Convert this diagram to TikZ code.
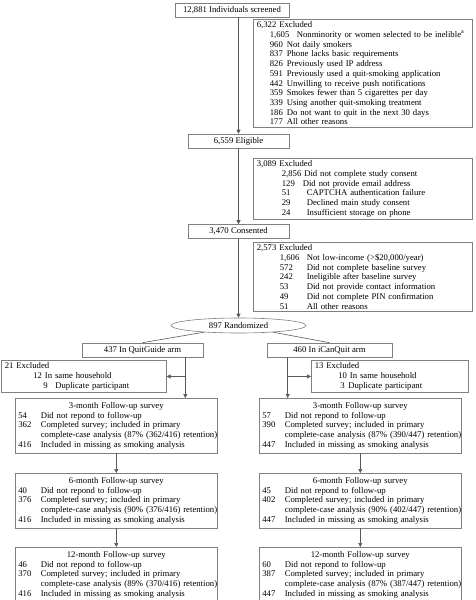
\documentclass[tikz,border=0pt]{standalone}
\usepackage{fontspec}
\setmainfont{Liberation Serif}
\usetikzlibrary{arrows.meta, positioning, shapes.geometric}
\newcommand{\flowfont}{\fontsize{8.7}{9.7}\selectfont}
\tikzset{
  box/.style = {
    draw=black!50!white, line width=0.6pt, inner xsep=3.5pt, inner ysep=2.5pt,
    font=\flowfont,
  },
  stage/.style = {box, align=center, minimum height=14pt},
  excluded/.style = {box, anchor=north west, align=left, text width=#1},
  followup/.style = {box, anchor=north west, align=left, text width=196pt,
                     inner xsep=3pt, inner ysep=4pt},
  randomized/.style = {ellipse, draw=black!50!white, line width=0.6pt,
                       minimum width=135pt, minimum height=15pt, inner sep=0,
                       font=\flowfont},
  split/.style = {line width=0.6pt, black!65!white},
  link/.style = {split, arrows={-Triangle[length=4pt, width=4pt]}},
}
\newcommand{\exrow}[3][17pt]{\makebox[#1][l]{#2}\mbox{#3}}
\newcommand{\followup}[5]{%
  %% Text of a follow-up box:
  %%    1. Month  2. No response  3. Completed
  %%    4. Retention (%)  5. Analysed in missing as smoking
  {\centering #1-month Follow-up survey\par}
  \exrow[22.5pt]{#2}{Did not repond to follow-up}\\
  \exrow[22.5pt]{#3}{Completed survey; included in primary}\\
  \exrow[22.5pt]{}{complete-case analysis (#4\% (#3/#5) retention)}\\
  \exrow[22.5pt]{#5}{Included in missing as smoking analysis}}

\begin{document}
\begin{tikzpicture}[x=1pt, y=-1pt]
    \useasboundingbox (0,0) rectangle (475,600);

    %% Screening, eligibility and consent with their exclusions
    \node [stage, minimum width=114pt] (screened) at (232,10) {12,881 Individuals screened};
    \node [excluded=212pt] (excl1) at (253,19) {%
      6,322 Excluded\\
      \hspace*{13pt}\exrow[27pt]{1,605}{Nonminority or women selected to be inelible\textsuperscript{a}}\\
      \hspace*{13pt}\exrow{960}{Not daily smokers}\\
      \hspace*{13pt}\exrow{837}{Phone lacks basic requirements}\\
      \hspace*{13pt}\exrow{826}{Previously used IP address}\\
      \hspace*{13pt}\exrow{591}{Previously used a quit-smoking application}\\
      \hspace*{13pt}\exrow{442}{Unwilling to receive push notifications}\\
      \hspace*{13pt}\exrow{359}{Smokes fewer than 5 cigarettes per day}\\
      \hspace*{13pt}\exrow{339}{Using another quit-smoking treatment}\\
      \hspace*{13pt}\exrow{186}{Do not want to quit in the next 30 days}\\
      \hspace*{13pt}\exrow{177}{All other reasons}};
    \node [stage, minimum width=101pt] (eligible) at (238.5,141) {6,559 Eligible};
    \node [excluded=212pt] (excl2) at (253,158) {%
      3,089 Excluded\\
      \hspace*{25pt}\mbox{2,856 Did not complete study consent}\\
      \hspace*{25pt}\exrow[21pt]{129}{Did not provide email address}\\
      \hspace*{25pt}\exrow[25pt]{51}{CAPTCHA authentication failure}\\
      \hspace*{25pt}\exrow[25pt]{29}{Declined main study consent}\\
      \hspace*{25pt}\exrow[25pt]{24}{Insufficient storage on phone}};
    \node [stage, minimum width=101pt] (consented) at (238.5,231.5) {3,470 Consented};
    \node [excluded=212pt] (excl3) at (253,242) {%
      2,573 Excluded\\
      \hspace*{23pt}\exrow[27pt]{1,606}{Not low-income (>\$20,000/year)}\\
      \hspace*{23pt}\exrow[27pt]{572}{Did not complete baseline survey}\\
      \hspace*{23pt}\exrow[27pt]{242}{Ineligible after baseline survey}\\
      \hspace*{23pt}\exrow[27pt]{53}{Did not provide contact information}\\
      \hspace*{23pt}\exrow[27pt]{49}{Did not complete PIN confirmation}\\
      \hspace*{23pt}\exrow[27pt]{51}{All other reasons}};
    \node [randomized] (random) at (238.5,325.5) {897 Randomized};

    %% The two arms
    \node [stage, minimum width=121pt] (quitguide) at (142.5,350) {437 In QuitGuide arm};
    \node [stage, minimum width=125pt] (icanquit) at (329.5,350) {460 In iCanQuit arm};
    \node [excluded=158pt] (exclQ) at (1,360) {%
      21 Excluded\\
      \hspace*{28.5pt}12 In same household\\
      \hspace*{38.5pt}\exrow[12pt]{9}{Duplicate participant}};
    \node [excluded=150pt] (exclI) at (311,360) {%
      13 Excluded\\
      \hspace*{23.5pt}10 In same household\\
      \hspace*{25.5pt}\exrow[8pt]{3}{Duplicate participant}};

    %% Follow-up surveys
    \node [followup] (Q3) at (15,398) {\followup{3}{54}{362}{87}{416}};
    \node [followup] (Q6) at (15,473) {\followup{6}{40}{376}{90}{416}};
    \node [followup] (Q12) at (15,547) {\followup{12}{46}{370}{89}{416}};
    \node [followup] (I3) at (259,398) {\followup{3}{57}{390}{87}{447}};
    \node [followup] (I6) at (259,473) {\followup{6}{45}{402}{90}{447}};
    \node [followup] (I12) at (259,547) {\followup{12}{60}{387}{87}{447}};

    %% Main flow
    \draw [link] (screened.south -| eligible.north) -- (eligible.north);
    \draw [link] (eligible.south) -- (consented.north);
    \draw [link] (consented.south) -- (random.north);
    \draw [split] (random.-169) -- (quitguide.north);
    \draw [split] (random.-11) -- (icanquit.north);

    %% Branches of each arm
    \coordinate (qsplit) at ([xshift=-18pt]quitguide.south east);
    \draw [link] (qsplit) -- (qsplit |- Q3.north);
    \draw [link] (qsplit |- exclQ.east) -- (exclQ.east);
    \coordinate (isplit) at ([xshift=21pt]icanquit.south west);
    \draw [link] (isplit) -- (isplit |- I3.north);
    \draw [link] (isplit |- exclI.west) -- (exclI.west);
    \foreach \arm in {Q, I}{%
      \draw [link] (\arm3) -- (\arm6);
      \draw [link] (\arm6) -- (\arm12);
    }
\end{tikzpicture}
\end{document}
